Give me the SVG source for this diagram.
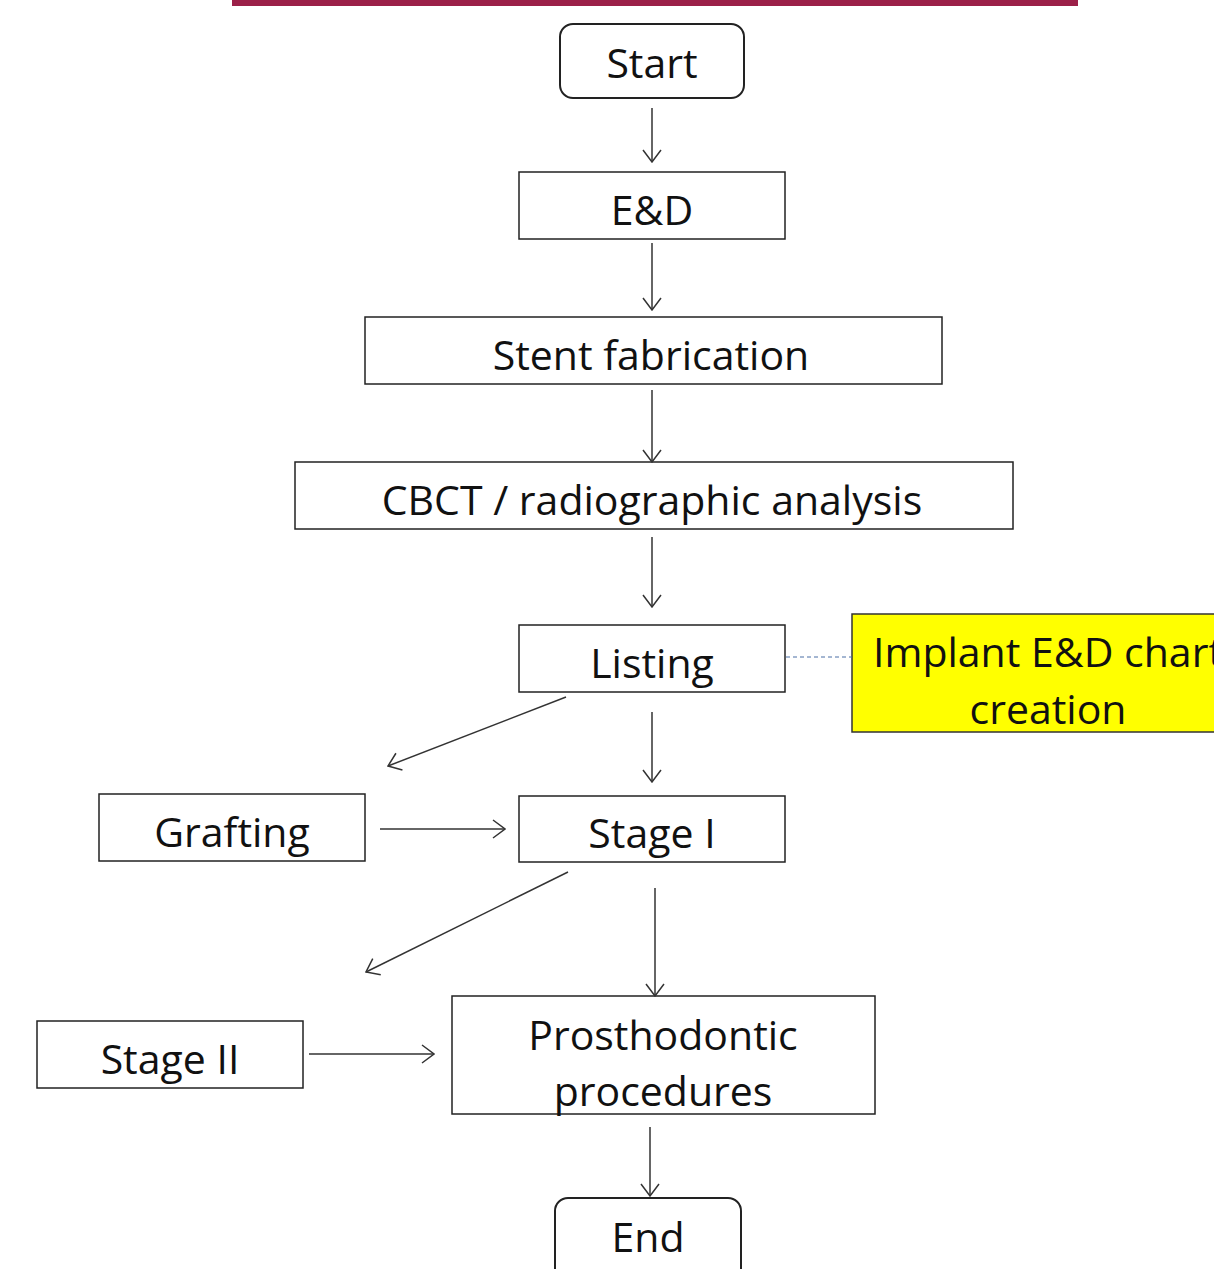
<svg xmlns="http://www.w3.org/2000/svg" width="1214" height="1269" viewBox="0 0 1214 1269">
<style>
.box{fill:#fff;stroke:#222;stroke-width:1.5}
.t{font-family:"Open Sans","Noto Sans",sans-serif;font-size:41px;fill:#111;text-anchor:middle}
.c{stroke:#333;stroke-width:1.5;fill:none}
</style>
<defs>
<marker id="ah" viewBox="0 0 14 20" refX="13" refY="10" markerWidth="14" markerHeight="20" markerUnits="userSpaceOnUse" orient="auto">
<path d="M1,1 L13,10 L1,19" fill="none" stroke="#333" stroke-width="1.5"/>
</marker>
</defs>
<rect x="232" y="0" width="846" height="6" fill="#9b2048"/>
<g id="start"><rect class="box" x="560" y="24" width="184" height="74" rx="13" style="stroke-width:2"/><text class="t" x="652" y="78">Start</text></g>
<g id="ed"><rect class="box" x="519" y="172" width="266" height="67"/><text class="t" x="652" y="225">E&amp;D</text></g>
<g id="stent"><rect class="box" x="365" y="317" width="577" height="67"/><text class="t" x="651" y="370">Stent fabrication</text></g>
<g id="cbct"><rect class="box" x="295" y="462" width="718" height="67"/><text class="t" x="652" y="515">CBCT / radiographic  analysis</text></g>
<g id="listing"><rect class="box" x="519" y="625" width="266" height="67"/><text class="t" x="652" y="678">Listing</text></g>
<g id="chart"><rect x="852" y="614" width="370" height="118" fill="#ffff00" stroke="#333" stroke-width="1.5"/><text class="t" x="1048" y="667">Implant E&amp;D chart</text><text class="t" x="1048" y="724">creation</text></g>
<g id="grafting"><rect class="box" x="99" y="794" width="266" height="67"/><text class="t" x="232" y="847">Grafting</text></g>
<g id="stage1"><rect class="box" x="519" y="796" width="266" height="66"/><text class="t" x="652" y="848">Stage I</text></g>
<g id="stage2"><rect class="box" x="37" y="1021" width="266" height="67"/><text class="t" x="170" y="1074">Stage II</text></g>
<g id="prost"><rect class="box" x="452" y="996" width="423" height="118"/><text class="t" x="663" y="1050">Prosthodontic</text><text class="t" x="663" y="1106">procedures</text></g>
<g id="end"><rect class="box" x="555" y="1198" width="186" height="90" rx="13" style="stroke-width:2"/><text class="t" x="648" y="1252">End</text></g>
<g id="connectors">
<line class="c" x1="652" y1="108" x2="652" y2="162" marker-end="url(#ah)"/>
<line class="c" x1="652" y1="243" x2="652" y2="310" marker-end="url(#ah)"/>
<line class="c" x1="652" y1="390" x2="652" y2="462" marker-end="url(#ah)"/>
<line class="c" x1="652" y1="537" x2="652" y2="607" marker-end="url(#ah)"/>
<line class="c" x1="566" y1="697" x2="388" y2="766" marker-end="url(#ah)"/>
<line class="c" x1="652" y1="712" x2="652" y2="782" marker-end="url(#ah)"/>
<line class="c" x1="380" y1="829" x2="505" y2="829" marker-end="url(#ah)"/>
<line class="c" x1="568" y1="872" x2="366" y2="972" marker-end="url(#ah)"/>
<line class="c" x1="655" y1="888" x2="655" y2="996" marker-end="url(#ah)"/>
<line class="c" x1="309" y1="1054" x2="434" y2="1054" marker-end="url(#ah)"/>
<line class="c" x1="650" y1="1127" x2="650" y2="1196" marker-end="url(#ah)"/>
<line x1="786" y1="657" x2="852" y2="657" stroke="#4a6fa5" stroke-width="1" stroke-dasharray="4,3"/>
</g>
</svg>
